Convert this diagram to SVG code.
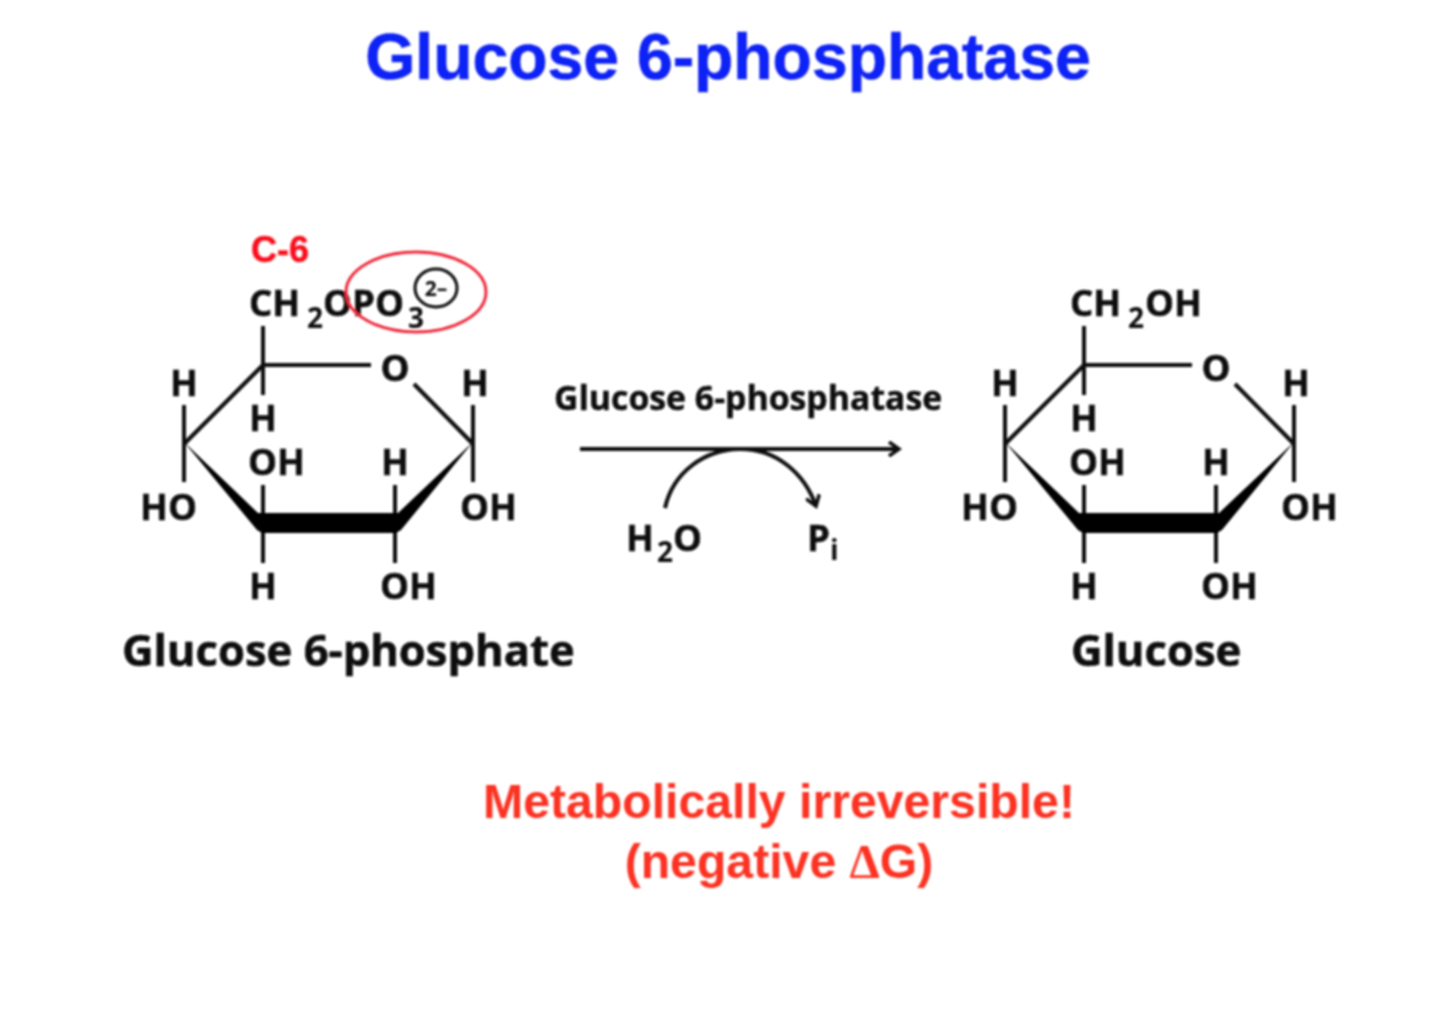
<svg xmlns="http://www.w3.org/2000/svg" width="1440" height="1013" viewBox="0 0 1440 1013">
<style>
text{font-family:"Open Sans","Noto Sans",sans-serif;font-weight:700;fill:#0a0a0a}
.a{font-size:36.5px;stroke:#0a0a0a;stroke-width:.5}
.n{font-size:43.6px;stroke:#0a0a0a;stroke-width:.5}
.s{font-size:28px}
.h{font-family:"Liberation Sans",Arial,sans-serif}
.b{stroke:#0a0a0a;stroke-width:4;fill:none}
.w{fill:#000}
</style>
<defs>
<filter id="soft" x="-5%" y="-5%" width="110%" height="110%"><feGaussianBlur stdDeviation="0.9"/></filter>
<marker id="ah" markerWidth="16" markerHeight="16" refX="13" refY="8" orient="auto" markerUnits="userSpaceOnUse"><path d="M3 1 L13 8 L3 15" fill="none" stroke="#0a0a0a" stroke-width="3.5"/></marker>
<g id="ring">
<path class="b" d="M263 326V395M263 365H371M263 365L184 444M414 384L473 444M184 405V482M473 405V482M263 485V563M395 485V563"/>
<path class="w" d="M184 442L258 513H398L473 442L401 530L396 533H262L257 530Z"/>
</g>
</defs>
<rect width="1440" height="1013" fill="#fff"/>
<g filter="url(#soft)">
<g id="title"><text class="h" x="728" y="79" text-anchor="middle" style="fill:#0f22f5;font-size:64.3px;stroke:#0f22f5;stroke-width:.6">Glucose 6-phosphatase</text></g>
<g id="glucose-6-phosphate">
<use href="#ring"/>
<text class="h" x="251" y="262" style="fill:#fb0d1f;font-size:36px;stroke:#fb0d1f;stroke-width:.5">C-6</text>
<text class="a" x="249" y="316">CH</text><text class="s" x="307" y="328">2</text><text class="a" x="323" y="316">OPO</text><text class="s" x="408" y="328">3</text>
<ellipse cx="436" cy="288" rx="21" ry="19" fill="none" stroke="#0a0a0a" stroke-width="3"/>
<text x="436" y="296" text-anchor="middle" style="font-size:21px">2–</text>
<ellipse cx="416" cy="292" rx="70" ry="40" fill="none" stroke="#ef2b3c" stroke-width="3"/>
<text class="a" x="184" y="396" text-anchor="middle">H</text>
<text class="a" x="395" y="381" text-anchor="middle">O</text>
<text class="a" x="475" y="396" text-anchor="middle">H</text>
<text class="a" x="263" y="431" text-anchor="middle">H</text>
<text class="a" x="248" y="475">OH</text>
<text class="a" x="395" y="475" text-anchor="middle">H</text>
<text class="a" x="140" y="520">HO</text>
<text class="a" x="460" y="520">OH</text>
<text class="a" x="263" y="599" text-anchor="middle">H</text>
<text class="a" x="380" y="599">OH</text>
<text class="n" x="122" y="666">Glucose 6-phosphate</text>
</g>
<g id="glucose">
<use href="#ring" x="821"/>
<text class="a" x="1070" y="316">CH</text><text class="s" x="1128" y="328">2</text><text class="a" x="1145" y="316">OH</text>
<text class="a" x="1005" y="396" text-anchor="middle">H</text>
<text class="a" x="1216" y="381" text-anchor="middle">O</text>
<text class="a" x="1296" y="396" text-anchor="middle">H</text>
<text class="a" x="1084" y="431" text-anchor="middle">H</text>
<text class="a" x="1069" y="475">OH</text>
<text class="a" x="1216" y="475" text-anchor="middle">H</text>
<text class="a" x="961" y="520">HO</text>
<text class="a" x="1281" y="520">OH</text>
<text class="a" x="1084" y="599" text-anchor="middle">H</text>
<text class="a" x="1201" y="599">OH</text>
<text class="n" x="1071" y="666">Glucose</text>
</g>
<g id="connectors">
<path class="b" d="M580 449H899" marker-end="url(#ah)"/>
<path class="b" d="M665 508C673 472 705 449 741 449C775 449 804 472 816 506" marker-end="url(#ah)"/>
</g>
<g id="enzyme"><text x="554" y="410" style="font-size:33.8px;stroke:#0a0a0a;stroke-width:.4">Glucose 6-phosphatase</text></g>
<g id="h2o"><text class="a" x="626" y="551">H</text><text class="s" x="657" y="562">2</text><text class="a" x="673" y="551">O</text></g>
<g id="pi"><text class="a" x="807" y="551">P</text><text class="s" x="830" y="560">i</text></g>
<g id="note">
<text class="h" x="779" y="818" text-anchor="middle" style="fill:#fc3020;font-size:48.2px">Metabolically irreversible!</text>
<text class="h" x="779" y="878" text-anchor="middle" style="fill:#fc3020;font-size:48.2px">(negative <tspan font-family="'Liberation Serif',serif">Δ</tspan>G)</text>
</g>
</g>
</svg>
